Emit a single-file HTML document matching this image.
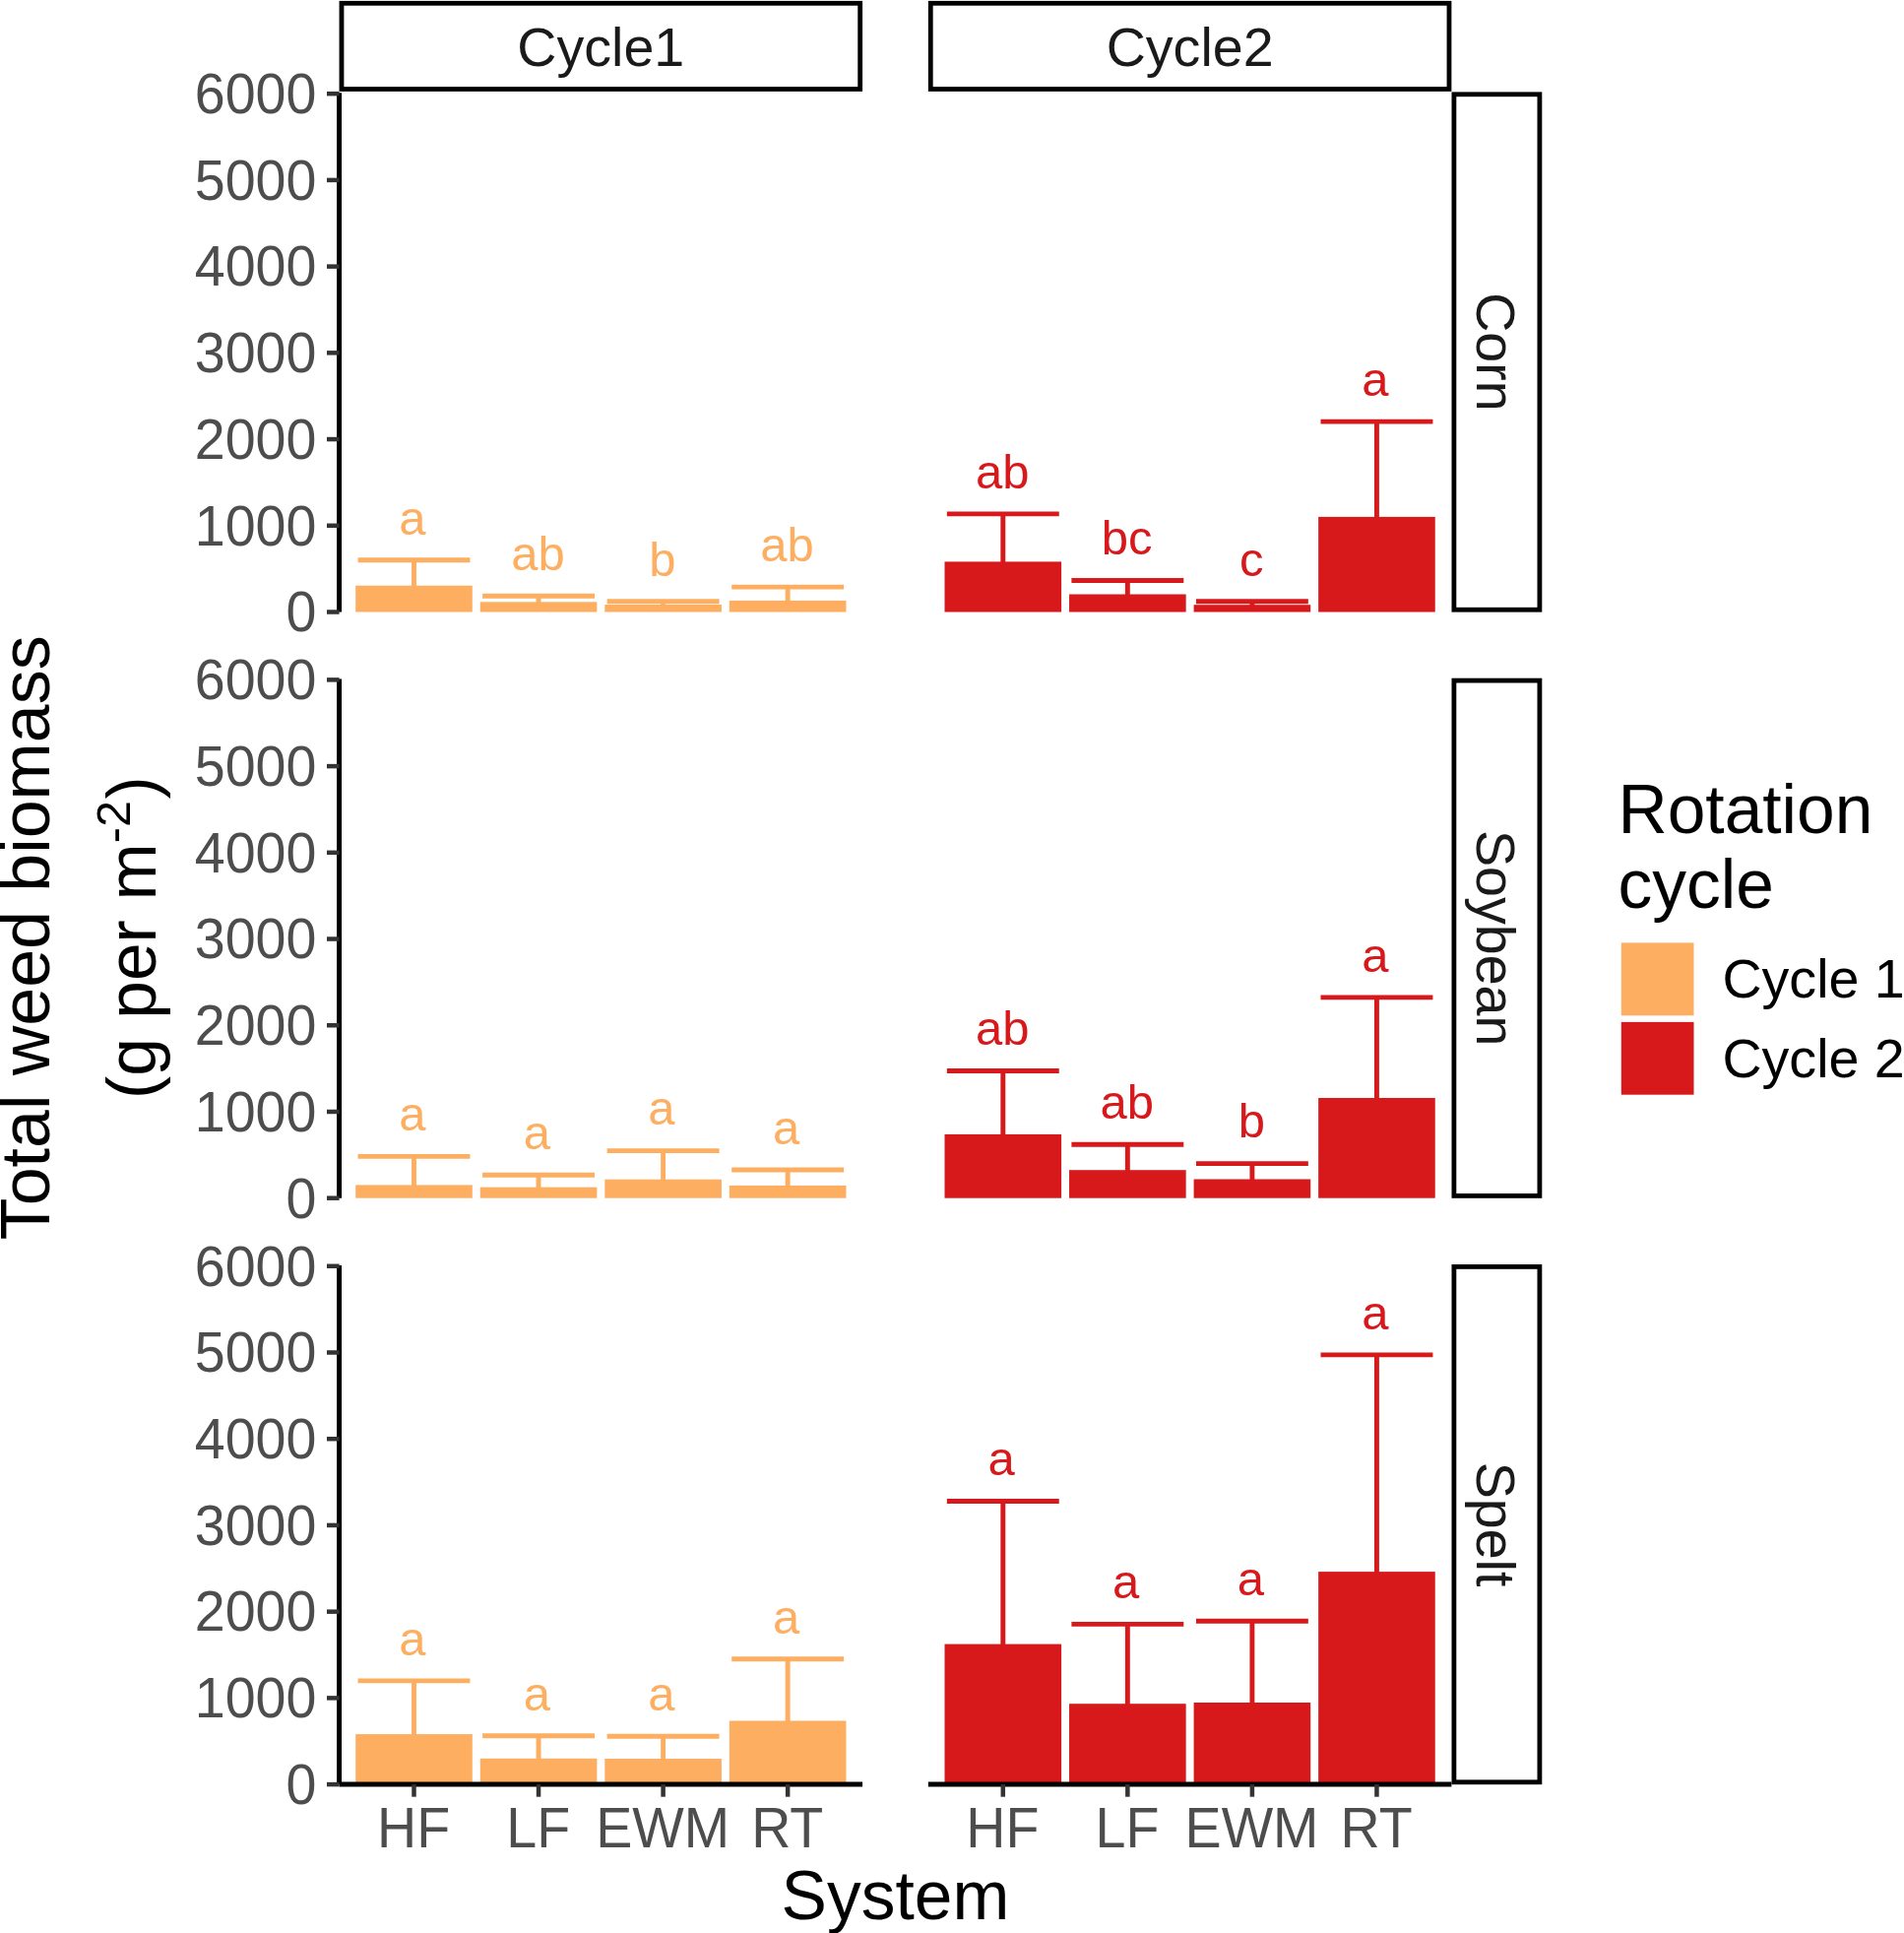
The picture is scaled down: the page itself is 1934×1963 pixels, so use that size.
<!DOCTYPE html>
<html lang="en"><head><meta charset="utf-8"><title>Total weed biomass by system</title>
<style>html,body{margin:0;padding:0;background:#fff}svg{display:block}text{font-family:"Liberation Sans",Arial,Helvetica,sans-serif}</style>
</head><body>
<svg width="1934" height="1963" viewBox="0 0 1934 1963">
<rect width="1934" height="1963" fill="#ffffff"/>
<g fill="#FDAE61" stroke="#FDAE61">
<rect x="361.20" y="594.70" width="118.60" height="26.80" stroke="none"/>
<path d="M363.55 568.70H477.45M420.50 568.70V595.70" fill="none" stroke-width="4.9"/>
<rect x="487.75" y="611.30" width="118.60" height="10.20" stroke="none"/>
<path d="M490.10 605.30H604.00M547.05 605.30V612.30" fill="none" stroke-width="4.9"/>
<rect x="614.30" y="614.00" width="118.60" height="7.50" stroke="none"/>
<path d="M616.65 610.80H730.55M673.60 610.80V615.00" fill="none" stroke-width="4.9"/>
<rect x="740.85" y="609.90" width="118.60" height="11.60" stroke="none"/>
<path d="M743.20 596.10H857.10M800.15 596.10V610.90" fill="none" stroke-width="4.9"/>
</g>
<g fill="#FDAE61" font-size="49.0" text-anchor="middle">
<text x="418.90" y="542.50">a</text>
<text x="546.45" y="579.10">ab</text>
<text x="673.00" y="584.60">b</text>
<text x="799.55" y="569.90">ab</text>
</g>
<g fill="#D7191C" stroke="#D7191C">
<rect x="959.50" y="570.40" width="118.60" height="51.10" stroke="none"/>
<path d="M961.85 521.90H1075.75M1018.80 521.90V571.40" fill="none" stroke-width="4.9"/>
<rect x="1086.05" y="603.50" width="118.60" height="18.00" stroke="none"/>
<path d="M1088.40 589.50H1202.30M1145.35 589.50V604.50" fill="none" stroke-width="4.9"/>
<rect x="1212.60" y="614.20" width="118.60" height="7.30" stroke="none"/>
<path d="M1214.95 610.80H1328.85M1271.90 610.80V615.20" fill="none" stroke-width="4.9"/>
<rect x="1339.15" y="524.90" width="118.60" height="96.60" stroke="none"/>
<path d="M1341.50 428.10H1455.40M1398.45 428.10V525.90" fill="none" stroke-width="4.9"/>
</g>
<g fill="#D7191C" font-size="49.0" text-anchor="middle">
<text x="1018.20" y="495.70">ab</text>
<text x="1144.75" y="563.30">bc</text>
<text x="1271.30" y="584.60">c</text>
<text x="1396.85" y="401.90">a</text>
</g>
<g fill="#FDAE61" stroke="#FDAE61">
<rect x="361.20" y="1203.40" width="118.60" height="13.30" stroke="none"/>
<path d="M363.55 1174.40H477.45M420.50 1174.40V1204.40" fill="none" stroke-width="4.9"/>
<rect x="487.75" y="1205.60" width="118.60" height="11.10" stroke="none"/>
<path d="M490.10 1193.30H604.00M547.05 1193.30V1206.60" fill="none" stroke-width="4.9"/>
<rect x="614.30" y="1197.70" width="118.60" height="19.00" stroke="none"/>
<path d="M616.65 1168.60H730.55M673.60 1168.60V1198.70" fill="none" stroke-width="4.9"/>
<rect x="740.85" y="1203.90" width="118.60" height="12.80" stroke="none"/>
<path d="M743.20 1188.00H857.10M800.15 1188.00V1204.90" fill="none" stroke-width="4.9"/>
</g>
<g fill="#FDAE61" font-size="49.0" text-anchor="middle">
<text x="418.90" y="1148.20">a</text>
<text x="545.45" y="1167.10">a</text>
<text x="672.00" y="1142.40">a</text>
<text x="798.55" y="1161.80">a</text>
</g>
<g fill="#D7191C" stroke="#D7191C">
<rect x="959.50" y="1151.90" width="118.60" height="64.80" stroke="none"/>
<path d="M961.85 1087.50H1075.75M1018.80 1087.50V1152.90" fill="none" stroke-width="4.9"/>
<rect x="1086.05" y="1188.20" width="118.60" height="28.50" stroke="none"/>
<path d="M1088.40 1162.30H1202.30M1145.35 1162.30V1189.20" fill="none" stroke-width="4.9"/>
<rect x="1212.60" y="1197.50" width="118.60" height="19.20" stroke="none"/>
<path d="M1214.95 1181.60H1328.85M1271.90 1181.60V1198.50" fill="none" stroke-width="4.9"/>
<rect x="1339.15" y="1115.00" width="118.60" height="101.70" stroke="none"/>
<path d="M1341.50 1012.90H1455.40M1398.45 1012.90V1116.00" fill="none" stroke-width="4.9"/>
</g>
<g fill="#D7191C" font-size="49.0" text-anchor="middle">
<text x="1018.20" y="1061.30">ab</text>
<text x="1144.75" y="1136.10">ab</text>
<text x="1271.30" y="1155.40">b</text>
<text x="1396.85" y="986.70">a</text>
</g>
<g fill="#FDAE61" stroke="#FDAE61">
<rect x="361.20" y="1761.10" width="118.60" height="51.00" stroke="none"/>
<path d="M363.55 1706.90H477.45M420.50 1706.90V1762.10" fill="none" stroke-width="4.9"/>
<rect x="487.75" y="1785.80" width="118.60" height="26.30" stroke="none"/>
<path d="M490.10 1762.80H604.00M547.05 1762.80V1786.80" fill="none" stroke-width="4.9"/>
<rect x="614.30" y="1786.00" width="118.60" height="26.10" stroke="none"/>
<path d="M616.65 1763.30H730.55M673.60 1763.30V1787.00" fill="none" stroke-width="4.9"/>
<rect x="740.85" y="1747.50" width="118.60" height="64.60" stroke="none"/>
<path d="M743.20 1684.80H857.10M800.15 1684.80V1748.50" fill="none" stroke-width="4.9"/>
</g>
<g fill="#FDAE61" font-size="49.0" text-anchor="middle">
<text x="418.90" y="1680.70">a</text>
<text x="545.45" y="1736.60">a</text>
<text x="672.00" y="1737.10">a</text>
<text x="798.55" y="1658.60">a</text>
</g>
<g fill="#D7191C" stroke="#D7191C">
<rect x="959.50" y="1669.60" width="118.60" height="142.50" stroke="none"/>
<path d="M961.85 1524.50H1075.75M1018.80 1524.50V1670.60" fill="none" stroke-width="4.9"/>
<rect x="1086.05" y="1730.20" width="118.60" height="81.90" stroke="none"/>
<path d="M1088.40 1649.40H1202.30M1145.35 1649.40V1731.20" fill="none" stroke-width="4.9"/>
<rect x="1212.60" y="1729.00" width="118.60" height="83.10" stroke="none"/>
<path d="M1214.95 1646.20H1328.85M1271.90 1646.20V1730.00" fill="none" stroke-width="4.9"/>
<rect x="1339.15" y="1596.10" width="118.60" height="216.00" stroke="none"/>
<path d="M1341.50 1375.90H1455.40M1398.45 1375.90V1597.10" fill="none" stroke-width="4.9"/>
</g>
<g fill="#D7191C" font-size="49.0" text-anchor="middle">
<text x="1017.20" y="1498.30">a</text>
<text x="1143.75" y="1623.20">a</text>
<text x="1270.30" y="1620.00">a</text>
<text x="1396.85" y="1349.70">a</text>
</g>
<g stroke="#000" stroke-width="5" fill="none">
<path d="M344.57 94.30V621.50"/>
<path d="M344.57 689.60V1216.70"/>
<path d="M344.57 1284.90V1812.10"/>
<path d="M344.57 1812.10H876.08"/>
<path d="M942.87 1812.10H1474.38"/>
</g>
<g stroke="#333333" stroke-width="4.5" fill="none">
<path d="M331.97 621.50H344.57"/>
<path d="M331.97 533.78H344.57"/>
<path d="M331.97 446.06H344.57"/>
<path d="M331.97 358.34H344.57"/>
<path d="M331.97 270.62H344.57"/>
<path d="M331.97 182.90H344.57"/>
<path d="M331.97 95.18H344.57"/>
<path d="M331.97 1216.70H344.57"/>
<path d="M331.97 1128.98H344.57"/>
<path d="M331.97 1041.26H344.57"/>
<path d="M331.97 953.54H344.57"/>
<path d="M331.97 865.82H344.57"/>
<path d="M331.97 778.10H344.57"/>
<path d="M331.97 690.38H344.57"/>
<path d="M331.97 1812.10H344.57"/>
<path d="M331.97 1724.38H344.57"/>
<path d="M331.97 1636.66H344.57"/>
<path d="M331.97 1548.94H344.57"/>
<path d="M331.97 1461.22H344.57"/>
<path d="M331.97 1373.50H344.57"/>
<path d="M331.97 1285.78H344.57"/>
<path d="M420.50 1812.10V1824.70"/>
<path d="M547.05 1812.10V1824.70"/>
<path d="M673.60 1812.10V1824.70"/>
<path d="M800.15 1812.10V1824.70"/>
<path d="M1018.80 1812.10V1824.70"/>
<path d="M1145.35 1812.10V1824.70"/>
<path d="M1271.90 1812.10V1824.70"/>
<path d="M1398.45 1812.10V1824.70"/>
</g>
<g fill="#4D4D4D" font-size="55.6" text-anchor="end">
<text transform="translate(321.4 641.30) scale(1 1.02)">0</text>
<text transform="translate(321.4 553.58) scale(1 1.02)">1000</text>
<text transform="translate(321.4 465.86) scale(1 1.02)">2000</text>
<text transform="translate(321.4 378.14) scale(1 1.02)">3000</text>
<text transform="translate(321.4 290.42) scale(1 1.02)">4000</text>
<text transform="translate(321.4 202.70) scale(1 1.02)">5000</text>
<text transform="translate(321.4 114.98) scale(1 1.02)">6000</text>
<text transform="translate(321.4 1236.50) scale(1 1.02)">0</text>
<text transform="translate(321.4 1148.78) scale(1 1.02)">1000</text>
<text transform="translate(321.4 1061.06) scale(1 1.02)">2000</text>
<text transform="translate(321.4 973.34) scale(1 1.02)">3000</text>
<text transform="translate(321.4 885.62) scale(1 1.02)">4000</text>
<text transform="translate(321.4 797.90) scale(1 1.02)">5000</text>
<text transform="translate(321.4 710.18) scale(1 1.02)">6000</text>
<text transform="translate(321.4 1831.90) scale(1 1.02)">0</text>
<text transform="translate(321.4 1744.18) scale(1 1.02)">1000</text>
<text transform="translate(321.4 1656.46) scale(1 1.02)">2000</text>
<text transform="translate(321.4 1568.74) scale(1 1.02)">3000</text>
<text transform="translate(321.4 1481.02) scale(1 1.02)">4000</text>
<text transform="translate(321.4 1393.30) scale(1 1.02)">5000</text>
<text transform="translate(321.4 1305.58) scale(1 1.02)">6000</text>
</g>
<g fill="#4D4D4D" font-size="55.6" text-anchor="middle">
<text transform="translate(420.10 1875.6) scale(1 1.04)">HF</text>
<text transform="translate(546.65 1875.6) scale(1 1.04)">LF</text>
<text transform="translate(673.20 1875.6) scale(1 1.04)">EWM</text>
<text transform="translate(799.75 1875.6) scale(1 1.04)">RT</text>
<text transform="translate(1018.40 1875.6) scale(1 1.04)">HF</text>
<text transform="translate(1144.95 1875.6) scale(1 1.04)">LF</text>
<text transform="translate(1271.50 1875.6) scale(1 1.04)">EWM</text>
<text transform="translate(1398.05 1875.6) scale(1 1.04)">RT</text>
</g>
<g fill="#fff" stroke="#000" stroke-width="4.8">
<rect x="346.97" y="3.30" width="526.71" height="87.20"/>
<rect x="945.27" y="3.30" width="526.71" height="87.20"/>
<rect x="1476.90" y="95.80" width="87.00" height="523.40"/>
<rect x="1476.90" y="691.10" width="87.00" height="523.30"/>
<rect x="1476.90" y="1286.40" width="87.00" height="523.40"/>
</g>
<g fill="#1A1A1A" font-size="55.6" text-anchor="middle">
<text x="610.32" y="66.7">Cycle1</text>
<text x="1208.62" y="66.7">Cycle2</text>
<text transform="translate(1500.3 357.45) rotate(90)">Corn</text>
<text transform="translate(1500.3 952.70) rotate(90)">Soybean</text>
<text transform="translate(1500.3 1548.05) rotate(90)">Spelt</text>
</g>
<g fill="#000" font-size="69.5" text-anchor="middle">
<text x="909.48" y="1948.7">System</text>
<text transform="translate(50.3 952.3) rotate(-90)" font-size="69.9">Total weed biomass</text>
<text transform="translate(158.1 952.1) rotate(-90)">(g per<tspan dx="0.8"> m</tspan><tspan font-size="48.65" dy="-26.5">-2</tspan><tspan dy="26.5" dx="1.6">)</tspan></text>
</g>
<g fill="#000" font-size="69.5">
<text x="1643.5" y="846.4">Rotation</text>
<text x="1643.5" y="921.9">cycle</text>
</g>
<rect x="1646.8" y="957.4" width="73.7" height="73.9" fill="#FDAE61"/>
<rect x="1646.8" y="1037.9" width="73.7" height="73.8" fill="#D7191C"/>
<g fill="#000" font-size="55.6">
<text x="1749.4" y="1013.4">Cycle 1</text>
<text x="1749.4" y="1093.9">Cycle 2</text>
</g>
</svg></body></html>
